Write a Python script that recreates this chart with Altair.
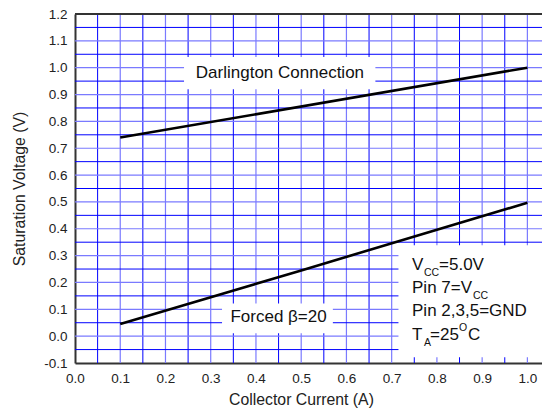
import altair as alt
import pandas as pd

# ---- data ----
x_ticks = [0.0, 0.1, 0.2, 0.3, 0.4, 0.5, 0.6, 0.7, 0.8, 0.9, 1.0]
y_ticks = [-0.1, 0.0, 0.1, 0.2, 0.3, 0.4, 0.5, 0.6, 0.7, 0.8, 0.9, 1.0, 1.1, 1.2]
grid_x_major = [0.1, 0.2, 0.3, 0.4, 0.5, 0.6, 0.7, 0.8, 0.9, 1.0]
grid_x_minor = [0.05, 0.15, 0.25, 0.35, 0.45, 0.55, 0.65, 0.75, 0.85, 0.95]
grid_y_major = [0.0, 0.1, 0.2, 0.3, 0.4, 0.5, 0.6, 0.7, 0.8, 0.9, 1.0, 1.1]
grid_y_minor = [-0.05, 0.05, 0.15, 0.25, 0.35, 0.45, 0.55, 0.65, 0.75, 0.85, 0.95, 1.05, 1.15]

darl_x = [0.1, 1.0]
darl_y = [0.74, 1.0]
forced_x = [0.1, 0.5, 1.0]
forced_y = [0.045, 0.245, 0.497]

FONT = "Liberation Sans"
XS = alt.Scale(domain=[0, 1.0323], nice=False, zero=False)
YS = alt.Scale(domain=[-0.1, 1.2], nice=False, zero=False)

x_axis = alt.Axis(
    values=x_ticks, labelExpr="format(datum.value, '.1f')", ticks=False, tickSize=0,
    grid=False, domainColor="#333333", domainWidth=2, labelFont=FONT,
    labelFontSize=13.5, labelColor="#222222", labelPadding=19,
    labelBaseline="alphabetic", labelFlush=False, labelOverlap=False,
    title="Collector Current (A)", titleFont=FONT, titleFontSize=15.8,
    titleFontWeight="normal", titleColor="#222222", titleX=226, titleY=41,
    titleBaseline="alphabetic", titleAlign="center",
)
y_axis = alt.Axis(
    values=y_ticks,
    labelExpr="replace(format(datum.value, '.1f'), '\u2212', '-')",
    ticks=False, tickSize=0, grid=False, domainColor="#333333", domainWidth=2,
    labelFont=FONT, labelFontSize=13.5, labelColor="#222222", labelPadding=8,
    labelFlush=False, labelOverlap=False,
    title="Saturation Voltage (V)", titleFont=FONT, titleFontSize=15.8,
    titleFontWeight="normal", titleColor="#222222", titleX=-51, titleY=174.5,
    titleAngle=270, titleBaseline="alphabetic", titleAlign="center",
)


def X(f="x:Q"):
    return alt.X(f, scale=XS, axis=x_axis)


def Y(f="y:Q"):
    return alt.Y(f, scale=YS, axis=y_axis)


def vgrid(vals, color, w):
    return alt.Chart(pd.DataFrame({"x": vals})).mark_rule(color=color, strokeWidth=w).encode(x=X())


def hgrid(vals, color, w):
    return alt.Chart(pd.DataFrame({"y": vals})).mark_rule(color=color, strokeWidth=w).encode(y=Y())


def box(x0, x1, y0, y1):
    return alt.Chart(pd.DataFrame({"x": [x0], "x2": [x1], "y": [y0], "y2": [y1]})).mark_rect(
        color="white"
    ).encode(x=X(), x2="x2:Q", y=Y(), y2="y2:Q")


def label(txt, x, y, size=17, align="left", baseline="alphabetic", dx=0, dy=0):
    return alt.Chart(pd.DataFrame({"x": [x], "y": [y]})).mark_text(
        text=txt, font=FONT, fontSize=size, color="#111111", align=align,
        baseline=baseline, dx=dx, dy=dy,
    ).encode(x=X(), y=Y())


def curve(xs, ys):
    return alt.Chart(pd.DataFrame({"x": xs, "y": ys})).mark_line(
        color="black", strokeWidth=2.6
    ).encode(x=X(), y=Y())


top_border = alt.Chart(pd.DataFrame({"y": [1.2]})).mark_rule(
    color="#333333", strokeWidth=2
).encode(y=Y())

cx = 0.745
layers = [
    vgrid(grid_x_minor, "#0000ff", 1),
    vgrid(grid_x_major, "#7a7aff", 1.2),
    hgrid(grid_y_minor, "#0000ff", 1),
    hgrid(grid_y_major, "#7a7aff", 1.2),
    curve(darl_x, darl_y),
    curve(forced_x, forced_y),
    box(0.241, 0.664, 0.92, 1.04),
    box(0.325, 0.570, 0.011, 0.122),
    box(0.715, 1.0323, -0.079, 0.339),
    label("Darlington Connection", 0.453, 0.98, align="center", baseline="middle"),
    label("Forced \u03b2=20", 0.45, 0.07, align="center", baseline="middle"),
    # conditions
    label("V", cx, 0.2455),
    label("CC", cx, 0.2455, size=10.5, dx=12, dy=6),
    label("=5.0V", cx, 0.2455, dx=27),
    label("Pin 7=V", cx, 0.1597),
    label("CC", cx, 0.1597, size=10.5, dx=61, dy=6),
    label("Pin 2,3,5=GND", cx, 0.074),
    label("T", cx, -0.0155),
    label("A", cx, -0.0155, size=10.5, dx=12, dy=6),
    label("=25", cx, -0.0155, dx=18),
    label("O", cx, -0.0155, size=10.5, dx=47, dy=-9),
    label("C", cx, -0.0155, dx=56),
    top_border,
]

chart = alt.layer(*layers).properties(
    width=467, height=349,
    autosize=alt.AutoSizeParams(type="none"),
    padding={"left": 67, "top": 6, "right": 0, "bottom": 45},
).configure_view(stroke=None)

chart.save("out.html", embed_options={"renderer": "svg", "actions": False})
